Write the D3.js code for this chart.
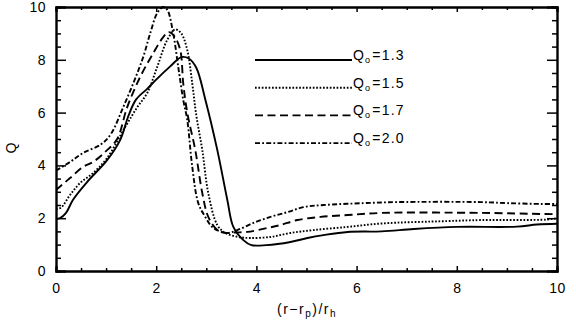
<!DOCTYPE html>
<html>
<head>
<meta charset="utf-8">
<script src="https://cdn.jsdelivr.net/npm/d3@7"></script>
<style>
  body { margin: 0; background: #fff; }
  svg { display: block; }
  text { font-family: "Liberation Sans", Arial, Helvetica, sans-serif; fill: #000; }
</style>
</head>
<body>
<div id="chart"></div>
<script>
// values: Q against (r - r_p)/r_h
var x_13 = [0, 0.08, 0.2, 0.34, 0.62, 1.02, 1.28, 1.45, 1.6, 1.82, 2.0, 2.28, 2.5, 2.65, 2.8, 2.98, 3.22, 3.42, 3.54, 3.74, 3.9, 4.2, 4.68, 5.02, 5.34, 5.82, 6.5, 7.14, 8.0, 9.2, 9.6, 10];
var q_13 = [1.97, 2.0, 2.2, 2.7, 3.37, 4.2, 4.96, 5.9, 6.5, 6.9, 7.25, 7.75, 8.1, 8.05, 7.7, 6.5, 4.58, 2.69, 1.67, 1.17, 0.98, 0.98, 1.1, 1.25, 1.36, 1.48, 1.5, 1.59, 1.67, 1.68, 1.76, 1.79];

var x_15 = [0, 0.1, 0.28, 0.48, 0.74, 1.02, 1.38, 1.62, 1.82, 2.02, 2.22, 2.38, 2.5, 2.62, 2.72, 2.8, 2.92, 3.04, 3.22, 3.38, 3.64, 3.88, 4.28, 4.68, 5.14, 5.82, 6.5, 7.8, 8.5, 9.8, 10];
var q_15 = [2.35, 2.4, 2.88, 3.33, 3.71, 4.28, 5.45, 6.2, 6.74, 7.73, 8.75, 9.15, 9.0, 8.37, 7.1, 5.9, 4.58, 2.95, 1.74, 1.44, 1.29, 1.25, 1.29, 1.44, 1.55, 1.67, 1.8, 1.89, 1.93, 1.95, 2.0];

var x_17 = [0, 0.28, 0.54, 0.74, 0.98, 1.22, 1.42, 1.68, 1.94, 2.14, 2.25, 2.36, 2.48, 2.54, 2.62, 2.78, 2.92, 3.04, 3.22, 3.38, 3.58, 3.82, 4.22, 4.48, 4.82, 5.28, 5.82, 6.5, 8.5, 9.7, 10];
var q_17 = [3.07, 3.52, 3.94, 4.13, 4.51, 5.0, 6.2, 7.35, 8.25, 8.86, 9.05, 8.9, 8.37, 7.1, 6.0, 4.58, 2.95, 2.05, 1.55, 1.44, 1.46, 1.48, 1.63, 1.74, 1.93, 2.05, 2.12, 2.2, 2.2, 2.16, 2.15];

var x_20 = [0, 0.28, 0.54, 0.9, 1.1, 1.34, 1.54, 1.74, 1.88, 2.02, 2.14, 2.22, 2.34, 2.44, 2.54, 2.62, 2.72, 2.84, 2.98, 3.14, 3.42, 3.62, 3.94, 4.28, 4.62, 4.94, 5.34, 6.14, 6.8, 8.48, 9.02, 9.68, 10];
var q_20 = [3.8, 4.13, 4.47, 4.8, 5.2, 6.2, 7.1, 8.1, 9.0, 9.77, 10.0, 9.9, 9.0, 7.73, 6.48, 5.72, 3.94, 2.57, 2.05, 1.63, 1.44, 1.55, 1.82, 2.05, 2.23, 2.42, 2.5, 2.57, 2.61, 2.61, 2.57, 2.54, 2.54];

var legend_labels = ["1.3", "1.5", "1.7", "2.0"];
var x_ticks = [0, 2, 4, 6, 8, 10];
var y_ticks = [0, 2, 4, 6, 8, 10];

var width = 576,
    height = 324,
    margin = {top: 7, right: 19, bottom: 53, left: 56},
    dashes = ["none", "1.7,1.7", "8,4.5", "5,2.2,1.8,2.2"],
    line_w = 1.9;

var svg = d3.select("#chart").append("svg")
    .attr("width", width)
    .attr("height", height);

var x = d3.scaleLinear().domain([0, 10]).range([margin.left, width - margin.right]);
var y = d3.scaleLinear().domain([0, 10]).range([height - margin.bottom, margin.top]);

var series = [
    {xs: x_13, qs: q_13},
    {xs: x_15, qs: q_15},
    {xs: x_17, qs: q_17},
    {xs: x_20, qs: q_20}
];

var line = d3.line()
    .x(function(d) { return x(d[0]); })
    .y(function(d) { return y(d[1]); })
    .curve(d3.curveCatmullRom.alpha(0.5));

svg.append("clipPath").attr("id", "clip")
    .append("rect")
    .attr("x", x(0)).attr("y", y(10) - 1)
    .attr("width", x(10) - x(0)).attr("height", y(0) - y(10) + 1);

var curves = svg.append("g").attr("clip-path", "url(#clip)");
series.forEach(function(s, i) {
    curves.append("path")
        .datum(d3.zip(s.xs, s.qs))
        .attr("d", line)
        .attr("fill", "none")
        .attr("stroke", "#000")
        .attr("stroke-width", line_w)
        .attr("stroke-dasharray", dashes[i]);
});

// axes, IDL style: ticks inside on all four sides
function minor() { return d3.range(0, 10.01, 0.5).filter(function(v) { return v % 2 != 0; }); }

svg.append("g").attr("transform", "translate(0," + y(0) + ")")
    .call(d3.axisBottom(x).tickValues(x_ticks).tickSize(-5).tickPadding(12).tickFormat(d3.format("d")));
svg.append("g").attr("transform", "translate(0," + y(0) + ")")
    .call(d3.axisBottom(x).tickValues(minor()).tickSize(-3).tickFormat(""));
svg.append("g").attr("transform", "translate(0," + y(10) + ")")
    .call(d3.axisTop(x).tickValues(x_ticks).tickSize(-5).tickFormat(""));
svg.append("g").attr("transform", "translate(0," + y(10) + ")")
    .call(d3.axisTop(x).tickValues(minor()).tickSize(-3).tickFormat(""));

var left = svg.append("g").attr("transform", "translate(" + x(0) + ",0)")
    .call(d3.axisLeft(y).tickValues(y_ticks).tickSize(-10).tickPadding(6).tickFormat(d3.format("d")));
svg.append("g").attr("transform", "translate(" + x(0) + ",0)")
    .call(d3.axisLeft(y).tickValues(minor()).tickSize(-5).tickFormat(""));
svg.append("g").attr("transform", "translate(" + x(10) + ",0)")
    .call(d3.axisRight(y).tickValues(y_ticks).tickSize(-10).tickFormat(""));
svg.append("g").attr("transform", "translate(" + x(10) + ",0)")
    .call(d3.axisRight(y).tickValues(minor()).tickSize(-5).tickFormat(""));

svg.selectAll(".domain").attr("stroke", "#000").attr("stroke-width", line_w);
svg.selectAll(".tick line").attr("stroke", "#000").attr("stroke-width", 1.5);
svg.selectAll(".tick text").style("font-size", "14px").attr("fill", "#000")
    .style("letter-spacing", "0.5px")
    .style("font-family", "'Liberation Sans', Arial, sans-serif");
left.selectAll(".tick text").attr("dx", "-4px");

// legend
var legend = svg.append("g");
legend_labels.forEach(function(lab, i) {
    var ly = 60 + i * 27.7;
    legend.append("line")
        .attr("x1", 255).attr("x2", 352)
        .attr("y1", ly).attr("y2", ly)
        .attr("stroke", "#000")
        .attr("stroke-width", line_w)
        .attr("stroke-dasharray", dashes[i]);
    var t = legend.append("text")
        .attr("x", 353).attr("y", ly)
        .style("font-size", "14px")
        .style("letter-spacing", "1.2px");
    t.append("tspan").text("Q");
    t.append("tspan").attr("dy", 3).style("font-size", "9px").text("o");
    t.append("tspan").attr("dy", -3).attr("dx", 1).text("=" + lab);
});

// axis titles
var xt = svg.append("text")
    .attr("x", 307).attr("y", 314)
    .attr("text-anchor", "middle")
    .style("font-size", "14px")
    .style("letter-spacing", "1.5px");
xt.append("tspan").text("(r\u2212r");
xt.append("tspan").attr("dy", 3).style("font-size", "10px").text("p");
xt.append("tspan").attr("dy", -3).text(")/r");
xt.append("tspan").attr("dy", 3).style("font-size", "10px").text("h");

svg.append("text")
    .attr("transform", "translate(16,148) rotate(-90)")
    .attr("text-anchor", "middle")
    .style("font-size", "14px")
    .text("Q");
</script>
</body>
</html>
